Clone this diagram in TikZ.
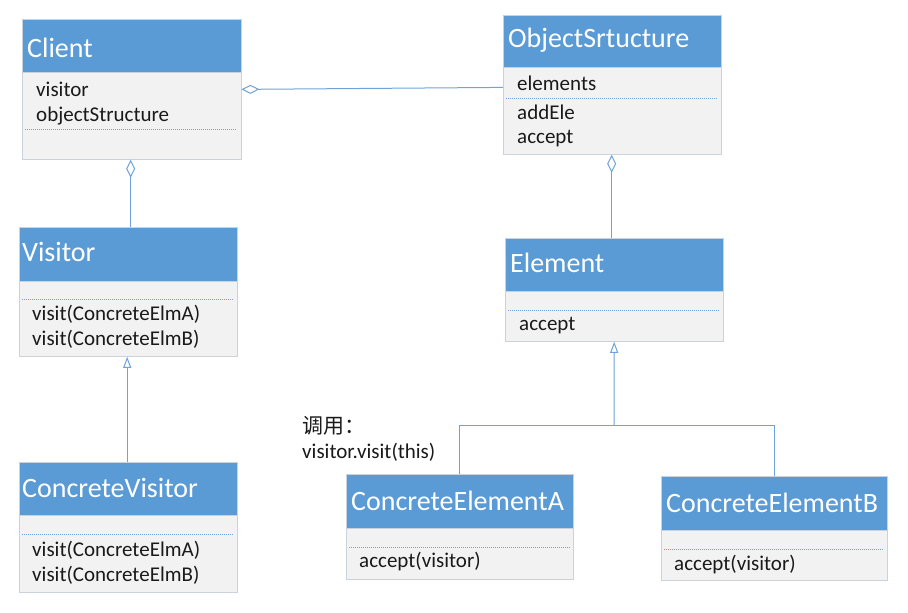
\documentclass[tikz,border=0pt]{standalone}
\usepackage{fontspec}
\setmainfont{Carlito}
\newfontfamily\cjk{Noto Sans CJK SC}
\usepackage{xcolor}
\usetikzlibrary{arrows.meta}
\definecolor{HeadBlue}{HTML}{5B9BD5}
\definecolor{BodyGray}{HTML}{F2F2F2}
\definecolor{BoxLine}{HTML}{C9D3DE}
\definecolor{LineBlue}{HTML}{6FA3DA}
\definecolor{Ink}{HTML}{1A1A1A}

\tikzset{
  hdr/.style={draw=BoxLine,fill=HeadBlue,anchor=north west,inner sep=0pt},
  bdy/.style={draw=BoxLine,fill=BodyGray,anchor=north west,inner sep=0pt},
  ttl/.style={anchor=base west,text=white,inner sep=0pt,font=\fontsize{28}{32}\selectfont},
  mbr/.style={anchor=base west,text=Ink,inner sep=0pt,font=\fontsize{21}{25}\selectfont},
  sep/.style={draw=LineBlue,line width=0.8pt,dash pattern=on 1pt off 1pt},
  agg/.style={draw=LineBlue,line width=1pt,{Diamond[open,length=18pt,width=9pt]}-},
  inh/.style={draw=LineBlue,line width=1pt,{Triangle[open,length=11pt,width=8pt]}-},
  link/.style={draw=LineBlue,line width=1pt}
}

\begin{document}
\begin{tikzpicture}[x=1pt,y=-1pt]
\fill[white] (0,0) rectangle (908,613);
\useasboundingbox (0,0) rectangle (908,613);

% Client
\node[hdr,minimum width=219pt,minimum height=53pt] (client) at (22,19) {};
\node[bdy,minimum width=219pt,minimum height=87pt] (clientb) at (client.south west) {};
\node[ttl] (clientt) at (27,57) {Client};
\node[mbr] (clientv) at (36,96) {visitor};
\node[mbr] (cliento) at (36,121) {objectStructure};
\draw[sep] (25,129) -- (236,129);

% ObjectSrtucture
\node[hdr,minimum width=218pt,minimum height=52pt] (obj) at (503,15) {};
\node[bdy,minimum width=218pt,minimum height=87pt] (objb) at (obj.south west) {};
\node[ttl] (objt) at (508,47) {ObjectSrtucture};
\node[mbr] (obje) at (517,90) {elements};
\node[mbr] (obja) at (517,119) {addEle};
\node[mbr] (objc) at (517,143) {accept};
\draw[sep] (506,98) -- (718,98);

% Visitor
\node[hdr,minimum width=218pt,minimum height=54pt] (visitor) at (19,227) {};
\node[bdy,minimum width=218pt,minimum height=75pt] (visitorb) at (visitor.south west) {};
\node[ttl] (visitort) at (22,261) {Visitor};
\node[mbr] (visitora) at (32,320) {visit(ConcreteElmA)};
\node[mbr] (visitorbb) at (32,345) {visit(ConcreteElmB)};
\draw[sep] (22,299) -- (234,299);

% ConcreteVisitor
\node[hdr,minimum width=218pt,minimum height=53pt] (cvisitor) at (19,462) {};
\node[bdy,minimum width=218pt,minimum height=77pt] (cvisitorb) at (cvisitor.south west) {};
\node[ttl] (cvisitort) at (22,497) {ConcreteVisitor};
\node[mbr] (cvisitora) at (32,556) {visit(ConcreteElmA)};
\node[mbr] (cvisitorbb) at (32,581) {visit(ConcreteElmB)};
\draw[sep] (22,534) -- (234,534);

% Element
\node[hdr,minimum width=218pt,minimum height=53pt] (element) at (505,238) {};
\node[bdy,minimum width=218pt,minimum height=50pt] (elementb) at (element.south west) {};
\node[ttl] (elementt) at (510,272) {Element};
\node[mbr] (elementa) at (519,330) {accept};
\draw[sep] (508,310) -- (720,310);

% ConcreteElementA
\node[hdr,minimum width=227pt,minimum height=54pt] (cea) at (346,474) {};
\node[bdy,minimum width=227pt,minimum height=51pt] (ceab) at (cea.south west) {};
\node[ttl] (ceat) at (351,510) {ConcreteElementA};
\node[mbr] (ceaa) at (359,567) {accept(visitor)};
\draw[sep] (349,547) -- (570,547);

% ConcreteElementB
\node[hdr,minimum width=226pt,minimum height=54pt] (ceb) at (661,476) {};
\node[bdy,minimum width=226pt,minimum height=50pt] (cebb) at (ceb.south west) {};
\node[ttl] (cebt) at (666,512) {ConcreteElementB};
\node[mbr] (ceba) at (674,570) {accept(visitor)};
\draw[sep] (664,549) -- (884,549);

% note
\node[mbr] (note1) at (302,433) {\cjk 调用：};
\node[mbr] (note2) at (302,458) {visitor.visit(this)};

% connectors
\draw[agg] ([yshift=-17pt]clientb.north east) -- ([yshift=-20pt]objb.north west);
\draw[agg] ([xshift=-1pt]clientb.south) -- ([xshift=-1pt]clientb.south |- visitor.north);
\draw[agg] ([xshift=-0.5pt]objb.south) -- ([xshift=-0.5pt]objb.south |- element.north);
\draw[inh] ([xshift=-1pt]visitorb.south) -- ([xshift=-1pt]visitorb.south |- cvisitor.north);
\coordinate (fork) at (614,425);
\draw[inh] (elementb.south) -- (fork);
\draw[link] (fork) -| (cea.north);
\draw[link] (fork) -| (ceb.north);
\end{tikzpicture}
\end{document}
